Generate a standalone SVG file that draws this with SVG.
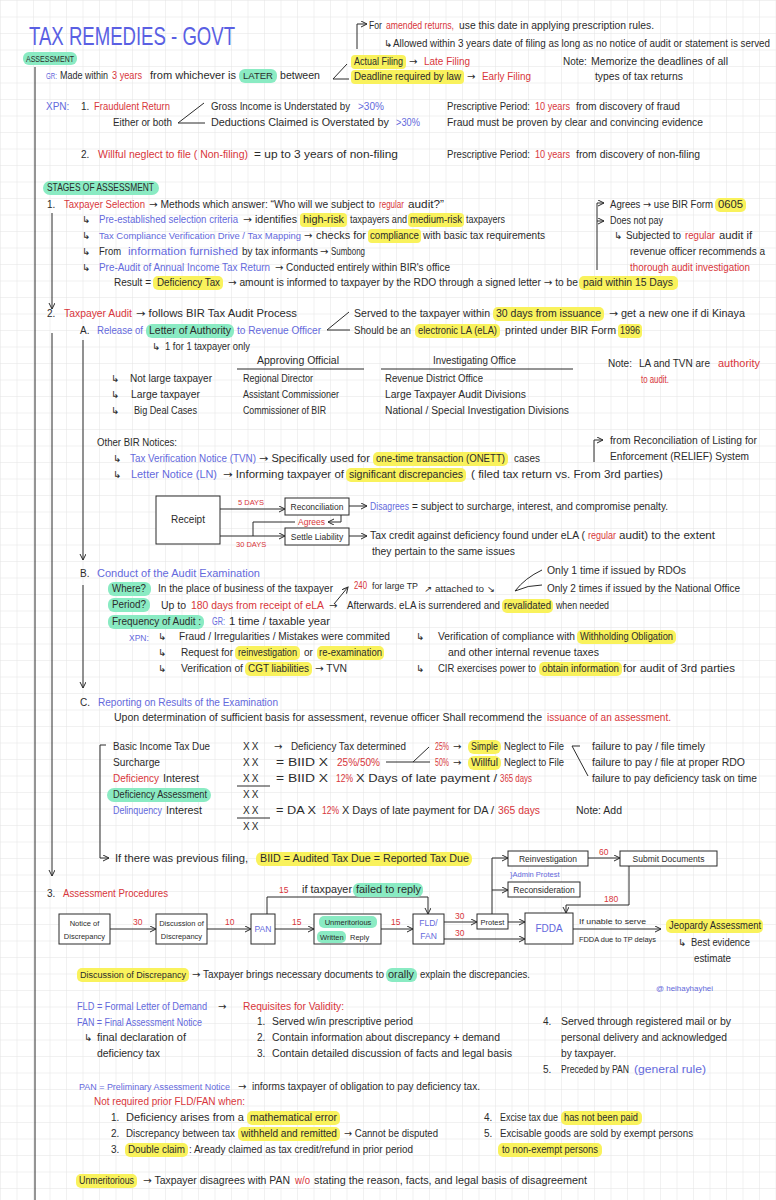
<svg xmlns="http://www.w3.org/2000/svg" width="776" height="1200" viewBox="0 0 776 1200">
<defs>
<pattern id="grid" width="16.5" height="16.5" patternUnits="userSpaceOnUse">
<path d="M16.5 0 L0 0 0 16.5" fill="none" stroke="#e3e3e3" stroke-width="1"/>
</pattern>
<marker id="ah" markerWidth="8" markerHeight="8" refX="6" refY="3" orient="auto" markerUnits="userSpaceOnUse">
<path d="M0,0 L6,3 L0,6" fill="none" stroke="#2b2b2b" stroke-width="1"/>
</marker>
<style>
.t{font-family:"Liberation Sans","DejaVu Sans",Arial,sans-serif;font-size:10px;fill:#2b2b2b}
.a{font-family:"DejaVu Sans",sans-serif}
.r{fill:#d8363b}
.b{fill:#6469dc}
.s{font-size:8.5px}
.xs{font-size:7.5px}
.c{text-anchor:middle}
.hy{fill:#f9f25c}
.hg{fill:#8aebc3}
.ln{stroke:#2b2b2b;stroke-width:1;fill:none}
.ar{marker-end:url(#ah)}
.box{fill:#ffffff;stroke:#2b2b2b;stroke-width:1}
.xx{letter-spacing:2px}
</style>
</defs>
<rect width="776" height="1200" fill="#ffffff"/>
<rect width="776" height="1200" fill="url(#grid)"/>

<g id="title">
<text class="t" x="29" y="45" style="font-size:25px;fill:#5a5fe3" textLength="206" lengthAdjust="spacingAndGlyphs">TAX REMEDIES - GOVT</text>
</g>

<g id="connectors-main">
<path class="ln" d="M35,67 L35,1200"/>
<path class="ln ar" d="M52,213 L52,309"/>
<path class="ln ar" d="M52,333 L52,876"/>
<path class="ln ar" d="M83,340 L83,560"/>
<path class="ln ar" d="M83,585 L83,688"/>
<path class="ln ar" d="M357,49 L357,24 L367,24"/>
<path class="ln" d="M347,64 L333,79 L349,79"/>
<path class="ln" d="M204,103 L178,123 L205,123"/>
<path class="ln ar" d="M597,270 L597,203 L604,203"/>
<path class="ln ar" d="M597,221 L604,221"/>
<path class="ln" d="M349,312 L327,330 L350,330"/>
<path class="ln ar" d="M594,462 L594,440 L603,440"/>
<path class="ln ar" d="M334,604 L348,587"/>
<path class="ln" d="M542,570 Q525,578 515,591 M542,585 Q528,585 515,591"/>
<path class="ln" d="M386,762 L430,762 M413,762 L429,747"/>
<path class="ln" d="M572,746 L580,746 M572,746 L588,776"/>
<path class="ln ar" d="M106,745 L100,745 L100,858 L109,858"/>
<path class="ln" d="M237,786 L270,786 M237,818 L270,818"/>
<path class="ln" d="M237,369 L364,369 M381,369 L573,369"/>
</g>

<g id="assessment">
<rect class="hg" x="23" y="52" width="54" height="13" rx="6"/>
<text class="t s" x="26" y="62" textLength="48" lengthAdjust="spacingAndGlyphs">ASSESSMENT</text>
<text class="t b s" x="46" y="79" textLength="11" lengthAdjust="spacingAndGlyphs">GR:</text>
<text class="t" x="60" y="79" textLength="48" lengthAdjust="spacingAndGlyphs">Made within</text>
<text class="t r" x="112" y="79" textLength="30" lengthAdjust="spacingAndGlyphs">3 years</text>
<text class="t" x="150" y="79" textLength="86" lengthAdjust="spacingAndGlyphs">from whichever is</text>
<rect class="hg" x="239" y="69" width="38" height="14" rx="6"/>
<text class="t s" x="243" y="79" textLength="30" lengthAdjust="spacingAndGlyphs">LATER</text>
<text class="t" x="280" y="79" textLength="40" lengthAdjust="spacingAndGlyphs">between</text>
<text class="t" x="369" y="29" textLength="13" lengthAdjust="spacingAndGlyphs">For</text>
<text class="t r" x="386" y="29" textLength="68" lengthAdjust="spacingAndGlyphs">amended returns,</text>
<text class="t" x="459" y="29" textLength="195" lengthAdjust="spacingAndGlyphs">use this date in applying prescription rules.</text>
<text class="t" x="384" y="47">↳</text>
<text class="t" x="393" y="47" textLength="377" lengthAdjust="spacingAndGlyphs">Allowed within 3 years date of filing as long as no notice of audit or statement is served</text>
<rect class="hy" x="351" y="55" width="55" height="14" rx="4"/>
<text class="t" x="354" y="65" textLength="49" lengthAdjust="spacingAndGlyphs">Actual Filing</text>
<text class="t a" x="409" y="65">→</text>
<text class="t r" x="424" y="65" textLength="46" lengthAdjust="spacingAndGlyphs">Late Filing</text>
<rect class="hy" x="351" y="70" width="113" height="14" rx="4"/>
<text class="t" x="354" y="80" textLength="107" lengthAdjust="spacingAndGlyphs">Deadline required by law</text>
<text class="t a" x="467" y="80">→</text>
<text class="t r" x="482" y="80" textLength="49" lengthAdjust="spacingAndGlyphs">Early Filing</text>
<text class="t" x="563" y="65">Note:</text>
<text class="t" x="591" y="65" textLength="137" lengthAdjust="spacingAndGlyphs">Memorize the deadlines of all</text>
<text class="t" x="595" y="80" textLength="88" lengthAdjust="spacingAndGlyphs">types of tax returns</text>
</g>

<g id="xpn">
<text class="t b" x="46" y="110">XPN:</text>
<text class="t" x="81" y="110">1.</text>
<text class="t r" x="94" y="110" textLength="76" lengthAdjust="spacingAndGlyphs">Fraudulent Return</text>
<text class="t" x="113" y="126" textLength="59" lengthAdjust="spacingAndGlyphs">Either or both</text>
<text class="t" x="211" y="110" textLength="139" lengthAdjust="spacingAndGlyphs">Gross Income is Understated by</text>
<text class="t b" x="358" y="110" textLength="26" lengthAdjust="spacingAndGlyphs">&gt;30%</text>
<text class="t" x="211" y="126" textLength="178" lengthAdjust="spacingAndGlyphs">Deductions Claimed is Overstated by</text>
<text class="t b" x="396" y="126" textLength="24" lengthAdjust="spacingAndGlyphs">&gt;30%</text>
<text class="t" x="447" y="110" textLength="83" lengthAdjust="spacingAndGlyphs">Prescriptive Period:</text>
<text class="t r" x="535" y="110" textLength="35" lengthAdjust="spacingAndGlyphs">10 years</text>
<text class="t" x="576" y="110" textLength="104" lengthAdjust="spacingAndGlyphs">from discovery of fraud</text>
<text class="t" x="447" y="126" textLength="256" lengthAdjust="spacingAndGlyphs">Fraud must be proven by clear and convincing evidence</text>
<text class="t" x="81" y="158">2.</text>
<text class="t r" x="98" y="158" textLength="150" lengthAdjust="spacingAndGlyphs">Willful neglect to file ( Non-filing)</text>
<text class="t" x="254" y="158" textLength="144" lengthAdjust="spacingAndGlyphs">= up to 3 years of non-filing</text>
<text class="t" x="447" y="158" textLength="83" lengthAdjust="spacingAndGlyphs">Prescriptive Period:</text>
<text class="t r" x="535" y="158" textLength="35" lengthAdjust="spacingAndGlyphs">10 years</text>
<text class="t" x="576" y="158" textLength="124" lengthAdjust="spacingAndGlyphs">from discovery of non-filing</text>
</g>

<g id="stage1">
<rect class="hg" x="43" y="181" width="116" height="14" rx="7"/>
<text class="t" x="47" y="191" textLength="107" lengthAdjust="spacingAndGlyphs">STAGES OF ASSESSMENT</text>
<text class="t" x="47" y="208">1.</text>
<text class="t r" x="64" y="208" textLength="81" lengthAdjust="spacingAndGlyphs">Taxpayer Selection</text>
<text class="t" x="149" y="208" textLength="226" lengthAdjust="spacingAndGlyphs"><tspan class="a">→</tspan> Methods which answer: “Who will we subject to</text>
<text class="t r" x="379" y="208" textLength="25" lengthAdjust="spacingAndGlyphs">regular</text>
<text class="t" x="408" y="208" textLength="36" lengthAdjust="spacingAndGlyphs">audit?”</text>
<text class="t" x="82" y="223">↳</text>
<text class="t b" x="99" y="223" textLength="139" lengthAdjust="spacingAndGlyphs">Pre-established selection criteria</text>
<text class="t" x="243" y="223" textLength="54" lengthAdjust="spacingAndGlyphs"><tspan class="a">→</tspan> identifies</text>
<rect class="hy" x="300" y="213" width="47" height="14" rx="4"/>
<text class="t" x="303" y="223" textLength="41" lengthAdjust="spacingAndGlyphs">high-risk</text>
<text class="t" x="350" y="223" textLength="57" lengthAdjust="spacingAndGlyphs">taxpayers and</text>
<rect class="hy" x="408" y="213" width="56" height="14" rx="4"/>
<text class="t" x="410" y="223" textLength="52" lengthAdjust="spacingAndGlyphs">medium-risk</text>
<text class="t" x="466" y="223" textLength="39" lengthAdjust="spacingAndGlyphs">taxpayers</text>
<text class="t" x="82" y="239">↳</text>
<text class="t b s" x="99" y="239" textLength="202" lengthAdjust="spacingAndGlyphs">Tax Compliance Verification Drive / Tax Mapping</text>
<text class="t a" x="304" y="239">→</text>
<text class="t" x="316" y="239" textLength="50" lengthAdjust="spacingAndGlyphs">checks for</text>
<rect class="hy" x="368" y="229" width="53" height="14" rx="4"/>
<text class="t" x="370" y="239" textLength="49" lengthAdjust="spacingAndGlyphs">compliance</text>
<text class="t" x="423" y="239" textLength="122" lengthAdjust="spacingAndGlyphs">with basic tax requirements</text>
<text class="t" x="82" y="255">↳</text>
<text class="t" x="99" y="255" textLength="22" lengthAdjust="spacingAndGlyphs">From</text>
<text class="t b" x="128" y="255" textLength="110" lengthAdjust="spacingAndGlyphs">information furnished</text>
<text class="t" x="242" y="255" textLength="76" lengthAdjust="spacingAndGlyphs">by tax informants</text>
<text class="t a" x="320" y="255">→</text>
<text class="t" x="331" y="255" textLength="34" lengthAdjust="spacingAndGlyphs">Sumbong</text>
<text class="t" x="82" y="271">↳</text>
<text class="t b" x="99" y="271" textLength="171" lengthAdjust="spacingAndGlyphs">Pre-Audit of Annual Income Tax Return</text>
<text class="t" x="275" y="271" textLength="175" lengthAdjust="spacingAndGlyphs"><tspan class="a">→</tspan> Conducted entirely within BIR's office</text>
<text class="t" x="114" y="286" textLength="37" lengthAdjust="spacingAndGlyphs">Result =</text>
<rect class="hy" x="153" y="276" width="70" height="14" rx="5"/>
<text class="t" x="157" y="286" textLength="63" lengthAdjust="spacingAndGlyphs">Deficiency Tax</text>
<text class="t" x="228" y="286" textLength="350" lengthAdjust="spacingAndGlyphs"><tspan class="a">→</tspan> amount is informed to taxpayer by the RDO through a signed letter <tspan class="a">→</tspan> to be</text>
<rect class="hy" x="579" y="276" width="99" height="14" rx="5"/>
<text class="t" x="583" y="286" textLength="90" lengthAdjust="spacingAndGlyphs">paid within 15 Days</text>
<text class="t" x="610" y="208" textLength="103" lengthAdjust="spacingAndGlyphs">Agrees <tspan class="a">→</tspan> use BIR Form</text>
<rect class="hy" x="715" y="198" width="31" height="14" rx="5"/>
<text class="t" x="718" y="208" textLength="25" lengthAdjust="spacingAndGlyphs">0605</text>
<text class="t" x="610" y="224" textLength="53" lengthAdjust="spacingAndGlyphs">Does not pay</text>
<text class="t" x="614" y="239">↳</text>
<text class="t" x="626" y="239" textLength="55" lengthAdjust="spacingAndGlyphs">Subjected to</text>
<text class="t r" x="685" y="239" textLength="30" lengthAdjust="spacingAndGlyphs">regular</text>
<text class="t" x="719" y="239" textLength="33" lengthAdjust="spacingAndGlyphs">audit if</text>
<text class="t" x="630" y="255" textLength="135" lengthAdjust="spacingAndGlyphs">revenue officer recommends a</text>
<text class="t r" x="630" y="271" textLength="120" lengthAdjust="spacingAndGlyphs">thorough audit investigation</text>
</g>

<g id="stage2-a">
<text class="t" x="47" y="317">2.</text>
<text class="t r" x="64" y="317" textLength="68" lengthAdjust="spacingAndGlyphs">Taxpayer Audit</text>
<text class="t" x="136" y="317" textLength="161" lengthAdjust="spacingAndGlyphs"><tspan class="a">→</tspan> follows BIR Tax Audit Process</text>
<text class="t" x="354" y="317" textLength="136" lengthAdjust="spacingAndGlyphs">Served to the taxpayer within</text>
<rect class="hy" x="493" y="307" width="111" height="14" rx="5"/>
<text class="t" x="496" y="317" textLength="105" lengthAdjust="spacingAndGlyphs">30 days from issuance</text>
<text class="t" x="609" y="317" textLength="136" lengthAdjust="spacingAndGlyphs"><tspan class="a">→</tspan> get a new one if di Kinaya</text>
<text class="t" x="354" y="334" textLength="57" lengthAdjust="spacingAndGlyphs">Should be an</text>
<rect class="hy" x="415" y="324" width="85" height="14" rx="5"/>
<text class="t" x="418" y="334" textLength="79" lengthAdjust="spacingAndGlyphs">electronic LA (eLA)</text>
<text class="t" x="505" y="334" textLength="111" lengthAdjust="spacingAndGlyphs">printed under BIR Form</text>
<rect class="hy" x="618" y="324" width="24" height="14" rx="4"/>
<text class="t" x="620" y="334" textLength="20" lengthAdjust="spacingAndGlyphs">1996</text>
<text class="t" x="80" y="334">A.</text>
<text class="t b" x="97" y="334" textLength="46" lengthAdjust="spacingAndGlyphs">Release of</text>
<rect class="hg" x="146" y="324" width="88" height="14" rx="6"/>
<text class="t" x="149" y="334" textLength="82" lengthAdjust="spacingAndGlyphs">Letter of Authority</text>
<text class="t b" x="237" y="334" textLength="84" lengthAdjust="spacingAndGlyphs">to Revenue Officer</text>
<text class="t" x="152" y="350">↳</text>
<text class="t" x="165" y="350" textLength="85" lengthAdjust="spacingAndGlyphs">1 for 1 taxpayer only</text>
<text class="t" x="257" y="364" textLength="82" lengthAdjust="spacingAndGlyphs">Approving Official</text>
<text class="t" x="433" y="364" textLength="83" lengthAdjust="spacingAndGlyphs">Investigating Office</text>
<text class="t" x="608" y="367" textLength="24" lengthAdjust="spacingAndGlyphs">Note:</text>
<text class="t" x="639" y="367" textLength="71" lengthAdjust="spacingAndGlyphs">LA and TVN are</text>
<text class="t r" x="718" y="367" textLength="42" lengthAdjust="spacingAndGlyphs">authority</text>
<text class="t r" x="641" y="383" textLength="28" lengthAdjust="spacingAndGlyphs">to audit.</text>
<text class="t" x="111" y="382">↳</text>
<text class="t" x="130" y="382" textLength="82" lengthAdjust="spacingAndGlyphs">Not large taxpayer</text>
<text class="t" x="243" y="382" textLength="70" lengthAdjust="spacingAndGlyphs">Regional Director</text>
<text class="t" x="385" y="382" textLength="98" lengthAdjust="spacingAndGlyphs">Revenue District Office</text>
<text class="t" x="111" y="398">↳</text>
<text class="t" x="131" y="398" textLength="69" lengthAdjust="spacingAndGlyphs">Large taxpayer</text>
<text class="t" x="243" y="398" textLength="96" lengthAdjust="spacingAndGlyphs">Assistant Commissioner</text>
<text class="t" x="385" y="398" textLength="141" lengthAdjust="spacingAndGlyphs">Large Taxpayer Audit Divisions</text>
<text class="t" x="111" y="414">↳</text>
<text class="t" x="134" y="414" textLength="63" lengthAdjust="spacingAndGlyphs">Big Deal Cases</text>
<text class="t" x="243" y="414" textLength="83" lengthAdjust="spacingAndGlyphs">Commissioner of BIR</text>
<text class="t" x="385" y="414" textLength="184" lengthAdjust="spacingAndGlyphs">National / Special Investigation Divisions</text>
</g>

<g id="other-notices">
<text class="t" x="97" y="446" textLength="80" lengthAdjust="spacingAndGlyphs">Other BIR Notices:</text>
<text class="t" x="113" y="462">↳</text>
<text class="t b" x="130" y="462" textLength="126" lengthAdjust="spacingAndGlyphs">Tax Verification Notice (TVN)</text>
<text class="t" x="259" y="462" textLength="111" lengthAdjust="spacingAndGlyphs"><tspan class="a">→</tspan> Specifically used for</text>
<rect class="hy" x="373" y="452" width="135" height="14" rx="5"/>
<text class="t" x="376" y="462" textLength="129" lengthAdjust="spacingAndGlyphs">one-time transaction (ONETT)</text>
<text class="t" x="514" y="462" textLength="26" lengthAdjust="spacingAndGlyphs">cases</text>
<text class="t" x="113" y="478">↳</text>
<text class="t b" x="131" y="478" textLength="86" lengthAdjust="spacingAndGlyphs">Letter Notice (LN)</text>
<text class="t" x="223" y="478" textLength="121" lengthAdjust="spacingAndGlyphs"><tspan class="a">→</tspan> Informing taxpayer of</text>
<rect class="hy" x="346" y="468" width="120" height="14" rx="5"/>
<text class="t" x="349" y="478" textLength="114" lengthAdjust="spacingAndGlyphs">significant discrepancies</text>
<text class="t" x="471" y="478" textLength="192" lengthAdjust="spacingAndGlyphs">( filed tax return vs. From 3rd parties)</text>
<text class="t" x="610" y="444" textLength="147" lengthAdjust="spacingAndGlyphs">from Reconciliation of Listing for</text>
<text class="t" x="610" y="460" textLength="139" lengthAdjust="spacingAndGlyphs">Enforcement (RELIEF) System</text>
</g>

<g id="receipt-flow">
<g id="n-receipt">
<rect class="box" x="156" y="496" width="64" height="48"/>
<text class="t c" x="188" y="523">Receipt</text>
</g>
<g id="n-reconciliation">
<rect class="box" x="285" y="498" width="64" height="17"/>
<text class="t s c" x="317" y="510">Reconciliation</text>
</g>
<g id="n-settle">
<rect class="box" x="285" y="528" width="64" height="17"/>
<text class="t s c" x="317" y="540">Settle Liability</text>
</g>
<g id="receipt-connectors">
<path class="ln ar" d="M220,509 L285,509"/>
<path class="ln ar" d="M220,536 L285,536"/>
<path class="ln ar" d="M341,515 L341,522 L328,522"/>
<path class="ln" d="M295,522 L253,522 L253,536"/>
<path class="ln ar" d="M349,506 L367,506"/>
<path class="ln ar" d="M349,536 L367,536"/>
</g>
<text class="t r xs" x="238" y="505">5 DAYS</text>
<text class="t r xs" x="236" y="547">30 DAYS</text>
<text class="t r s" x="298" y="525">Agrees</text>
<text class="t b" x="370" y="510" textLength="39" lengthAdjust="spacingAndGlyphs">Disagrees</text>
<text class="t" x="412" y="510" textLength="256" lengthAdjust="spacingAndGlyphs">= subject to surcharge, interest, and compromise penalty.</text>
<text class="t" x="370" y="539" textLength="215" lengthAdjust="spacingAndGlyphs">Tax credit against deficiency found under eLA (</text>
<text class="t r" x="588" y="539" textLength="28" lengthAdjust="spacingAndGlyphs">regular</text>
<text class="t" x="619" y="539" textLength="96" lengthAdjust="spacingAndGlyphs">audit) to the extent</text>
<text class="t" x="372" y="555" textLength="143" lengthAdjust="spacingAndGlyphs">they pertain to the same issues</text>
</g>

<g id="stage2-b">
<text class="t" x="80" y="577">B.</text>
<text class="t b" x="97" y="577" textLength="163" lengthAdjust="spacingAndGlyphs">Conduct of the Audit Examination</text>
<rect class="hg" x="108" y="582" width="43" height="14" rx="6"/>
<text class="t" x="112" y="592" textLength="34" lengthAdjust="spacingAndGlyphs">Where?</text>
<text class="t" x="158" y="592" textLength="175" lengthAdjust="spacingAndGlyphs">In the place of business of the taxpayer</text>
<text class="t r" x="354" y="589" textLength="13" lengthAdjust="spacingAndGlyphs">240</text>
<text class="t s" x="372" y="589" textLength="46" lengthAdjust="spacingAndGlyphs">for large TP</text>
<text class="t s" x="424" y="592" textLength="71" lengthAdjust="spacingAndGlyphs">↗ attached to ↘</text>
<text class="t" x="547" y="574" textLength="139" lengthAdjust="spacingAndGlyphs">Only 1 time if issued by RDOs</text>
<text class="t" x="547" y="592" textLength="193" lengthAdjust="spacingAndGlyphs">Only 2 times if issued by the National Office</text>
<rect class="hg" x="108" y="598" width="42" height="14" rx="6"/>
<text class="t" x="112" y="608" textLength="34" lengthAdjust="spacingAndGlyphs">Period?</text>
<text class="t" x="161" y="609" textLength="25" lengthAdjust="spacingAndGlyphs">Up to</text>
<text class="t r" x="191" y="609" textLength="133" lengthAdjust="spacingAndGlyphs">180 days from receipt of eLA</text>
<text class="t a" x="329" y="609">→</text>
<text class="t" x="347" y="609" textLength="153" lengthAdjust="spacingAndGlyphs">Afterwards. eLA is surrendered and</text>
<rect class="hy" x="502" y="599" width="51" height="14" rx="5"/>
<text class="t" x="504" y="609" textLength="47" lengthAdjust="spacingAndGlyphs">revalidated</text>
<text class="t" x="556" y="609" textLength="53" lengthAdjust="spacingAndGlyphs">when needed</text>
<rect class="hg" x="108" y="615" width="96" height="14" rx="6"/>
<text class="t" x="112" y="625" textLength="89" lengthAdjust="spacingAndGlyphs">Frequency of Audit :</text>
<text class="t b" x="212" y="625" textLength="13" lengthAdjust="spacingAndGlyphs">GR:</text>
<text class="t" x="229" y="625" textLength="101" lengthAdjust="spacingAndGlyphs">1 time / taxable year</text>
<text class="t b s" x="129" y="641">XPN:</text>
<text class="t" x="158" y="640">↳</text>
<text class="t" x="179" y="640" textLength="211" lengthAdjust="spacingAndGlyphs">Fraud / Irregularities / Mistakes were commited</text>
<text class="t" x="158" y="656">↳</text>
<text class="t" x="181" y="656" textLength="52" lengthAdjust="spacingAndGlyphs">Request for</text>
<rect class="hy" x="235" y="646" width="65" height="14" rx="5"/>
<text class="t" x="238" y="656" textLength="59" lengthAdjust="spacingAndGlyphs">reinvestigation</text>
<text class="t" x="304" y="656">or</text>
<rect class="hy" x="317" y="646" width="67" height="14" rx="5"/>
<text class="t" x="319" y="656" textLength="63" lengthAdjust="spacingAndGlyphs">re-examination</text>
<text class="t" x="158" y="672">↳</text>
<text class="t" x="181" y="672" textLength="62" lengthAdjust="spacingAndGlyphs">Verification of</text>
<rect class="hy" x="245" y="662" width="67" height="14" rx="5"/>
<text class="t" x="248" y="672" textLength="61" lengthAdjust="spacingAndGlyphs">CGT liabilities</text>
<text class="t" x="315" y="672" textLength="32" lengthAdjust="spacingAndGlyphs"><tspan class="a">→</tspan> TVN</text>
<text class="t" x="416" y="640">↳</text>
<text class="t" x="438" y="640" textLength="137" lengthAdjust="spacingAndGlyphs">Verification of compliance with</text>
<rect class="hy" x="577" y="630" width="99" height="14" rx="5"/>
<text class="t" x="580" y="640" textLength="93" lengthAdjust="spacingAndGlyphs">Withholding Obligation</text>
<text class="t" x="448" y="656" textLength="151" lengthAdjust="spacingAndGlyphs">and other internal revenue taxes</text>
<text class="t" x="416" y="672">↳</text>
<text class="t" x="438" y="672" textLength="98" lengthAdjust="spacingAndGlyphs">CIR exercises power to</text>
<rect class="hy" x="539" y="662" width="83" height="14" rx="5"/>
<text class="t" x="542" y="672" textLength="77" lengthAdjust="spacingAndGlyphs">obtain information</text>
<text class="t" x="623" y="672" textLength="112" lengthAdjust="spacingAndGlyphs">for audit of 3rd parties</text>
</g>

<g id="stage2-c">
<text class="t" x="80" y="706">C.</text>
<text class="t b" x="98" y="706" textLength="180" lengthAdjust="spacingAndGlyphs">Reporting on Results of the Examination</text>
<text class="t" x="114" y="721" textLength="428" lengthAdjust="spacingAndGlyphs">Upon determination of sufficient basis for assessment, revenue officer Shall recommend the</text>
<text class="t r" x="547" y="721" textLength="124" lengthAdjust="spacingAndGlyphs">issuance of an assessment.</text>
<text class="t" x="113" y="750" textLength="97" lengthAdjust="spacingAndGlyphs">Basic Income Tax Due</text>
<text class="t" x="113" y="766" textLength="47" lengthAdjust="spacingAndGlyphs">Surcharge</text>
<text class="t r" x="113" y="782" textLength="46" lengthAdjust="spacingAndGlyphs">Deficiency</text>
<text class="t" x="163" y="782" textLength="36" lengthAdjust="spacingAndGlyphs">Interest</text>
<rect class="hg" x="107" y="788" width="104" height="14" rx="7"/>
<text class="t" x="113" y="798" textLength="94" lengthAdjust="spacingAndGlyphs">Deficiency Assessment</text>
<text class="t b" x="113" y="814" textLength="49" lengthAdjust="spacingAndGlyphs">Delinquency</text>
<text class="t" x="166" y="814" textLength="36" lengthAdjust="spacingAndGlyphs">Interest</text>
<text class="t xx" x="243" y="750">XX</text>
<text class="t xx" x="243" y="766">XX</text>
<text class="t xx" x="243" y="782">XX</text>
<text class="t xx" x="243" y="798">XX</text>
<text class="t xx" x="243" y="814">XX</text>
<text class="t xx" x="243" y="830">XX</text>
<text class="t a" x="274" y="750">→</text>
<text class="t" x="291" y="750" textLength="115" lengthAdjust="spacingAndGlyphs">Deficiency Tax determined</text>
<text class="t" x="276" y="766" textLength="52" lengthAdjust="spacingAndGlyphs">= BIID X</text>
<text class="t r" x="337" y="766" textLength="43" lengthAdjust="spacingAndGlyphs">25%/50%</text>
<text class="t" x="276" y="782" textLength="52" lengthAdjust="spacingAndGlyphs">= BIID X</text>
<text class="t r" x="336" y="782" textLength="17" lengthAdjust="spacingAndGlyphs">12%</text>
<text class="t" x="356" y="782" textLength="141" lengthAdjust="spacingAndGlyphs">X Days of late payment /</text>
<text class="t r" x="500" y="782" textLength="32" lengthAdjust="spacingAndGlyphs">365 days</text>
<text class="t r" x="435" y="750" textLength="14" lengthAdjust="spacingAndGlyphs">25%</text>
<text class="t a" x="453" y="750">→</text>
<rect class="hy" x="468" y="740" width="33" height="14" rx="6"/>
<text class="t" x="471" y="750" textLength="27" lengthAdjust="spacingAndGlyphs">Simple</text>
<text class="t" x="504" y="750" textLength="60" lengthAdjust="spacingAndGlyphs">Neglect to File</text>
<text class="t r" x="435" y="766" textLength="14" lengthAdjust="spacingAndGlyphs">50%</text>
<text class="t a" x="453" y="766">→</text>
<rect class="hy" x="468" y="756" width="33" height="14" rx="6"/>
<text class="t" x="471" y="766" textLength="27" lengthAdjust="spacingAndGlyphs">Willful</text>
<text class="t" x="504" y="766" textLength="60" lengthAdjust="spacingAndGlyphs">Neglect to File</text>
<text class="t" x="592" y="750" textLength="113" lengthAdjust="spacingAndGlyphs">failure to pay / file timely</text>
<text class="t" x="592" y="766" textLength="153" lengthAdjust="spacingAndGlyphs">failure to pay / file at proper RDO</text>
<text class="t" x="592" y="782" textLength="165" lengthAdjust="spacingAndGlyphs">failure to pay deficiency task on time</text>
<text class="t" x="276" y="814" textLength="40" lengthAdjust="spacingAndGlyphs">= DA X</text>
<text class="t r" x="322" y="814" textLength="17" lengthAdjust="spacingAndGlyphs">12%</text>
<text class="t" x="342" y="814" textLength="152" lengthAdjust="spacingAndGlyphs">X Days of late payment for DA /</text>
<text class="t r" x="498" y="814" textLength="42" lengthAdjust="spacingAndGlyphs">365 days</text>
<text class="t" x="576" y="814" textLength="46" lengthAdjust="spacingAndGlyphs">Note: Add</text>
<text class="t" x="115" y="862" textLength="133" lengthAdjust="spacingAndGlyphs">If there was previous filing,</text>
<rect class="hy" x="256" y="852" width="216" height="14" rx="6"/>
<text class="t" x="260" y="862" textLength="209" lengthAdjust="spacingAndGlyphs">BIID = Audited Tax Due = Reported Tax Due</text>
</g>

<g id="stage3">
<text class="t" x="47" y="897">3.</text>
<text class="t r" x="63" y="897" textLength="105" lengthAdjust="spacingAndGlyphs">Assessment Procedures</text>
<g id="n-notice">
<rect class="box" x="59" y="914" width="51" height="30"/>
<text class="t xs c" x="84.5" y="926">Notice of</text>
<text class="t xs c" x="84.5" y="939">Discrepancy</text>
</g>
<g id="n-discussion">
<rect class="box" x="156" y="914" width="51" height="30"/>
<text class="t xs c" x="181.5" y="926">Discussion of</text>
<text class="t xs c" x="181.5" y="939">Discrepancy</text>
</g>
<g id="n-pan">
<rect class="box" x="251" y="914" width="24" height="30"/>
<text class="t b s c" x="263" y="932">PAN</text>
</g>
<g id="n-unmeritorious">
<rect class="box" x="314" y="914" width="67" height="30"/>
<rect class="hg" x="319" y="916" width="58" height="12" rx="5"/>
<text class="t xs c" x="348" y="925">Unmeritorious</text>
<rect class="hg" x="317" y="931" width="29" height="12" rx="5"/>
<text class="t xs" x="320" y="940">Written</text>
<text class="t xs" x="350" y="940">Reply</text>
</g>
<g id="n-fld">
<rect class="box" x="413" y="914" width="31" height="30"/>
<text class="t b s c" x="428.5" y="926">FLD/</text>
<text class="t b s c" x="428.5" y="939">FAN</text>
</g>
<g id="n-protest">
<rect class="box" x="477" y="914" width="31" height="15"/>
<text class="t xs c" x="492.5" y="925">Protest</text>
</g>
<g id="n-fdda">
<rect class="box" x="525" y="913" width="48" height="31"/>
<text class="t b c" x="549" y="932">FDDA</text>
</g>
<g id="n-reinvestigation">
<rect class="box" x="508" y="851" width="80" height="15"/>
<text class="t s c" x="548" y="862">Reinvestigation</text>
</g>
<g id="n-submit">
<rect class="box" x="620" y="851" width="97" height="15"/>
<text class="t s c" x="668.5" y="862">Submit Documents</text>
</g>
<g id="n-reconsideration">
<rect class="box" x="508" y="882" width="72" height="15"/>
<text class="t s c" x="544" y="893">Reconsideration</text>
</g>
<g id="flow-connectors">
<path class="ln ar" d="M110,929 L156,929"/>
<path class="ln ar" d="M207,929 L251,929"/>
<path class="ln ar" d="M275,929 L314,929"/>
<path class="ln ar" d="M381,929 L413,929"/>
<path class="ln ar" d="M444,922 L477,922"/>
<path class="ln ar" d="M444,939 L525,939"/>
<path class="ln ar" d="M508,922 L525,922"/>
<path class="ln ar" d="M267,914 L267,897 L428,897 L428,914"/>
<path class="ln ar" d="M492,914 L492,858 L508,858"/>
<path class="ln ar" d="M492,890 L508,890"/>
<path class="ln ar" d="M588,858 L620,858"/>
<path class="ln ar" d="M629,866 L629,905 L566,905 L566,913"/>
<path class="ln ar" d="M573,929 L661,929"/>
</g>
<text class="t r s" x="133" y="925">30</text>
<text class="t r s" x="225" y="925">10</text>
<text class="t r s" x="292" y="925">15</text>
<text class="t r s" x="391" y="925">15</text>
<text class="t r s" x="455" y="919">30</text>
<text class="t r s" x="455" y="936">30</text>
<text class="t r s" x="599" y="855">60</text>
<text class="t r s" x="604" y="902">180</text>
<text class="t r s" x="279" y="893">15</text>
<text class="t" x="302" y="893" textLength="50" lengthAdjust="spacingAndGlyphs">if taxpayer</text>
<rect class="hg" x="353" y="883" width="70" height="14" rx="6"/>
<text class="t" x="356" y="893" textLength="65" lengthAdjust="spacingAndGlyphs">failed to reply</text>
<text class="t b xs" x="510" y="877">}Admin Protest</text>
<text class="t xs" x="579" y="924" textLength="67" lengthAdjust="spacingAndGlyphs">If unable to serve</text>
<text class="t xs" x="579" y="942" textLength="77" lengthAdjust="spacingAndGlyphs">FDDA due to TP delays</text>
<rect class="hy" x="666" y="919" width="97" height="14" rx="5"/>
<text class="t" x="669" y="929" textLength="92" lengthAdjust="spacingAndGlyphs">Jeopardy Assessment</text>
<text class="t" x="678" y="946">↳</text>
<text class="t" x="691" y="946" textLength="59" lengthAdjust="spacingAndGlyphs">Best evidence</text>
<text class="t" x="694" y="962" textLength="37" lengthAdjust="spacingAndGlyphs">estimate</text>
</g>

<g id="notes-fld-fan">
<rect class="hy" x="77" y="968" width="112" height="14" rx="5"/>
<text class="t s" x="80" y="978" textLength="106" lengthAdjust="spacingAndGlyphs">Discussion of Discrepancy</text>
<text class="t" x="192" y="978" textLength="192" lengthAdjust="spacingAndGlyphs"><tspan class="a">→</tspan> Taxpayer brings necessary documents to</text>
<rect class="hg" x="386" y="968" width="31" height="14" rx="6"/>
<text class="t" x="388" y="978" textLength="26" lengthAdjust="spacingAndGlyphs">orally</text>
<text class="t" x="420" y="978" textLength="110" lengthAdjust="spacingAndGlyphs">explain the discrepancies.</text>
<text class="t b xs" x="656" y="991" textLength="57" lengthAdjust="spacingAndGlyphs">@ heihayhayhei</text>
<text class="t b" x="77" y="1010" textLength="130" lengthAdjust="spacingAndGlyphs">FLD = Formal Letter of Demand</text>
<text class="t a" x="218" y="1010">→</text>
<text class="t r" x="243" y="1010" textLength="101" lengthAdjust="spacingAndGlyphs">Requisites for Validity:</text>
<text class="t b" x="77" y="1026" textLength="125" lengthAdjust="spacingAndGlyphs">FAN = Final Assessment Notice</text>
<text class="t" x="84" y="1041">↳</text>
<text class="t" x="97" y="1041" textLength="89" lengthAdjust="spacingAndGlyphs">final declaration of</text>
<text class="t" x="97" y="1057" textLength="63" lengthAdjust="spacingAndGlyphs">deficiency tax</text>
<text class="t" x="257" y="1025">1.</text>
<text class="t" x="272" y="1025" textLength="141" lengthAdjust="spacingAndGlyphs">Served w/in prescriptive period</text>
<text class="t" x="257" y="1041">2.</text>
<text class="t" x="272" y="1041" textLength="228" lengthAdjust="spacingAndGlyphs">Contain information about discrepancy + demand</text>
<text class="t" x="257" y="1057">3.</text>
<text class="t" x="272" y="1057" textLength="240" lengthAdjust="spacingAndGlyphs">Contain detailed discussion of facts and legal basis</text>
<text class="t" x="543" y="1025">4.</text>
<text class="t" x="561" y="1025" textLength="170" lengthAdjust="spacingAndGlyphs">Served through registered mail or by</text>
<text class="t" x="561" y="1041" textLength="166" lengthAdjust="spacingAndGlyphs">personal delivery and acknowledged</text>
<text class="t" x="561" y="1057" textLength="55" lengthAdjust="spacingAndGlyphs">by taxpayer.</text>
<text class="t" x="543" y="1073">5.</text>
<text class="t" x="561" y="1073" textLength="68" lengthAdjust="spacingAndGlyphs">Preceded by PAN</text>
<text class="t b" x="634" y="1073" textLength="72" lengthAdjust="spacingAndGlyphs">(general rule)</text>
</g>

<g id="notes-pan">
<text class="t b s" x="79" y="1090" textLength="151" lengthAdjust="spacingAndGlyphs">PAN = Preliminary Assessment Notice</text>
<text class="t a" x="238" y="1090">→</text>
<text class="t" x="252" y="1090" textLength="228" lengthAdjust="spacingAndGlyphs">informs taxpayer of obligation to pay deficiency tax.</text>
<text class="t r" x="94" y="1105" textLength="151" lengthAdjust="spacingAndGlyphs">Not required prior FLD/FAN when:</text>
<text class="t" x="111" y="1121">1.</text>
<text class="t" x="126" y="1121" textLength="118" lengthAdjust="spacingAndGlyphs">Deficiency arises from a</text>
<rect class="hy" x="247" y="1111" width="93" height="14" rx="5"/>
<text class="t" x="250" y="1121" textLength="87" lengthAdjust="spacingAndGlyphs">mathematical error</text>
<text class="t" x="111" y="1137">2.</text>
<text class="t" x="126" y="1137" textLength="109" lengthAdjust="spacingAndGlyphs">Discrepancy between tax</text>
<rect class="hy" x="238" y="1127" width="102" height="14" rx="5"/>
<text class="t" x="241" y="1137" textLength="96" lengthAdjust="spacingAndGlyphs">withheld and remitted</text>
<text class="t" x="344" y="1137" textLength="94" lengthAdjust="spacingAndGlyphs"><tspan class="a">→</tspan> Cannot be disputed</text>
<text class="t" x="111" y="1153">3.</text>
<rect class="hy" x="125" y="1143" width="63" height="14" rx="5"/>
<text class="t" x="128" y="1153" textLength="57" lengthAdjust="spacingAndGlyphs">Double claim</text>
<text class="t" x="189" y="1153" textLength="224" lengthAdjust="spacingAndGlyphs">: Aready claimed as tax credit/refund in prior period</text>
<text class="t" x="484" y="1121">4.</text>
<text class="t" x="500" y="1121" textLength="58" lengthAdjust="spacingAndGlyphs">Excise tax due</text>
<rect class="hy" x="561" y="1111" width="81" height="14" rx="5"/>
<text class="t" x="564" y="1121" textLength="74" lengthAdjust="spacingAndGlyphs">has not been paid</text>
<text class="t" x="484" y="1137">5.</text>
<text class="t" x="500" y="1137" textLength="193" lengthAdjust="spacingAndGlyphs">Excisable goods are sold by exempt persons</text>
<rect class="hy" x="498" y="1143" width="104" height="14" rx="5"/>
<text class="t" x="502" y="1153" textLength="96" lengthAdjust="spacingAndGlyphs">to non-exempt persons</text>
<rect class="hy" x="76" y="1174" width="61" height="14" rx="5"/>
<text class="t" x="79" y="1184" textLength="55" lengthAdjust="spacingAndGlyphs">Unmeritorious</text>
<text class="t" x="143" y="1184" textLength="147" lengthAdjust="spacingAndGlyphs"><tspan class="a">→</tspan> Taxpayer disagrees with PAN</text>
<text class="t r" x="295" y="1184" textLength="15" lengthAdjust="spacingAndGlyphs">w/o</text>
<text class="t" x="314" y="1184" textLength="273" lengthAdjust="spacingAndGlyphs">stating the reason, facts, and legal basis of disagreement</text>
</g>
</svg>
